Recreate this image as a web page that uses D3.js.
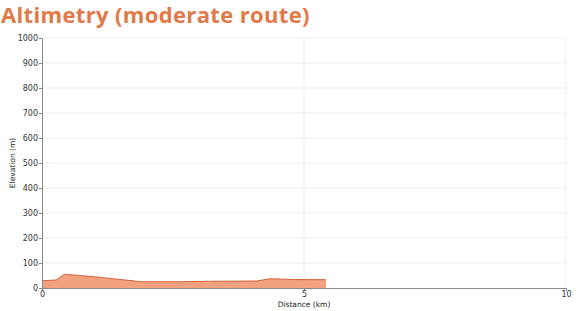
<!DOCTYPE html>
<html>
<head>
<meta charset="utf-8">
<script src="https://cdn.jsdelivr.net/npm/d3@7"></script>
<style>
	body { margin: 0; background: #fff; }
	.title { font-family: "Open Sans", sans-serif; font-weight: 700; fill: #e07a48; }
	.axis text { font-family: "DejaVu Sans", sans-serif; font-size: 8px; fill: #333; }
	.axis path, .axis line { stroke: #888; }
	.grid line { stroke: #ebebeb; stroke-width: 0.8; }
	.label { font-family: "DejaVu Sans", sans-serif; font-size: 7.5px; fill: #222; }
</style>
</head>
<body>
<div id="js-chart"></div>
<script>
// profile data (distance km, elevation m)
const distances = [0, 0.27, 0.43, 1.0, 1.9, 2.6, 3.2, 4.1, 4.35, 4.8, 5.42];
const elevations = [29, 32, 55, 45, 25, 25, 27, 28, 37, 34, 33];
const xTicks = [0, 5, 10];
const yTicks = [0, 100, 200, 300, 400, 500, 600, 700, 800, 900, 1000];

const width = 576, height = 311;
const margin = { left: 42, right: 10, top: 38, bottom: 23 };

const svg = d3.select('#js-chart')
	.append('svg')
	.attr('width', width)
	.attr('height', height);

svg.append('text')
	.attr('class', 'title')
	.attr('x', 1)
	.attr('y', 23)
	.attr('font-size', 22)
	.attr('letter-spacing', 0.35)
	.text('Altimetry (moderate route)');

const x = d3.scaleLinear().domain([0, 10]).range([margin.left, width - margin.right]);
const y = d3.scaleLinear().domain([0, 1000]).range([height - margin.bottom, margin.top]);

// grid
const grid = svg.append('g').attr('class', 'grid');
grid.selectAll('.h').data(yTicks.slice(1)).enter().append('line')
	.attr('x1', x(0)).attr('x2', x(10))
	.attr('y1', d => y(d)).attr('y2', d => y(d));
grid.selectAll('.v').data(xTicks.slice(1)).enter().append('line')
	.attr('x1', d => x(d)).attr('x2', d => x(d))
	.attr('y1', y(0)).attr('y2', y(1000));

// area
const pts = distances.map((d, i) => [d, elevations[i]]);
const area = d3.area().x(d => x(d[0])).y0(y(0)).y1(d => y(d[1]));
const line = d3.line().x(d => x(d[0])).y(d => y(d[1]));
svg.append('path').attr('d', area(pts)).attr('fill', '#f2a27e');
svg.append('path').attr('d', line(pts)).attr('fill', 'none').attr('stroke', '#d5643c').attr('stroke-width', 1);

// axes
svg.append('g').attr('class', 'axis')
	.attr('transform', `translate(0,${y(0)})`)
	.call(d3.axisBottom(x).tickValues(xTicks).tickSize(3).tickPadding(0).tickFormat(d3.format('d')));
svg.append('g').attr('class', 'axis')
	.attr('transform', `translate(${x(0)},0)`)
	.call(d3.axisLeft(y).tickValues(yTicks).tickSize(3).tickPadding(1).tickFormat(d3.format('d')));

svg.append('text').attr('class', 'label')
	.attr('x', x(5)).attr('y', 307).attr('text-anchor', 'middle')
	.text('Distance (km)');
svg.append('text').attr('class', 'label')
	.attr('transform', `translate(15,${y(500)}) rotate(-90)`)
	.attr('text-anchor', 'middle')
	.text('Elevation (m)');
</script>
</body>
</html>
